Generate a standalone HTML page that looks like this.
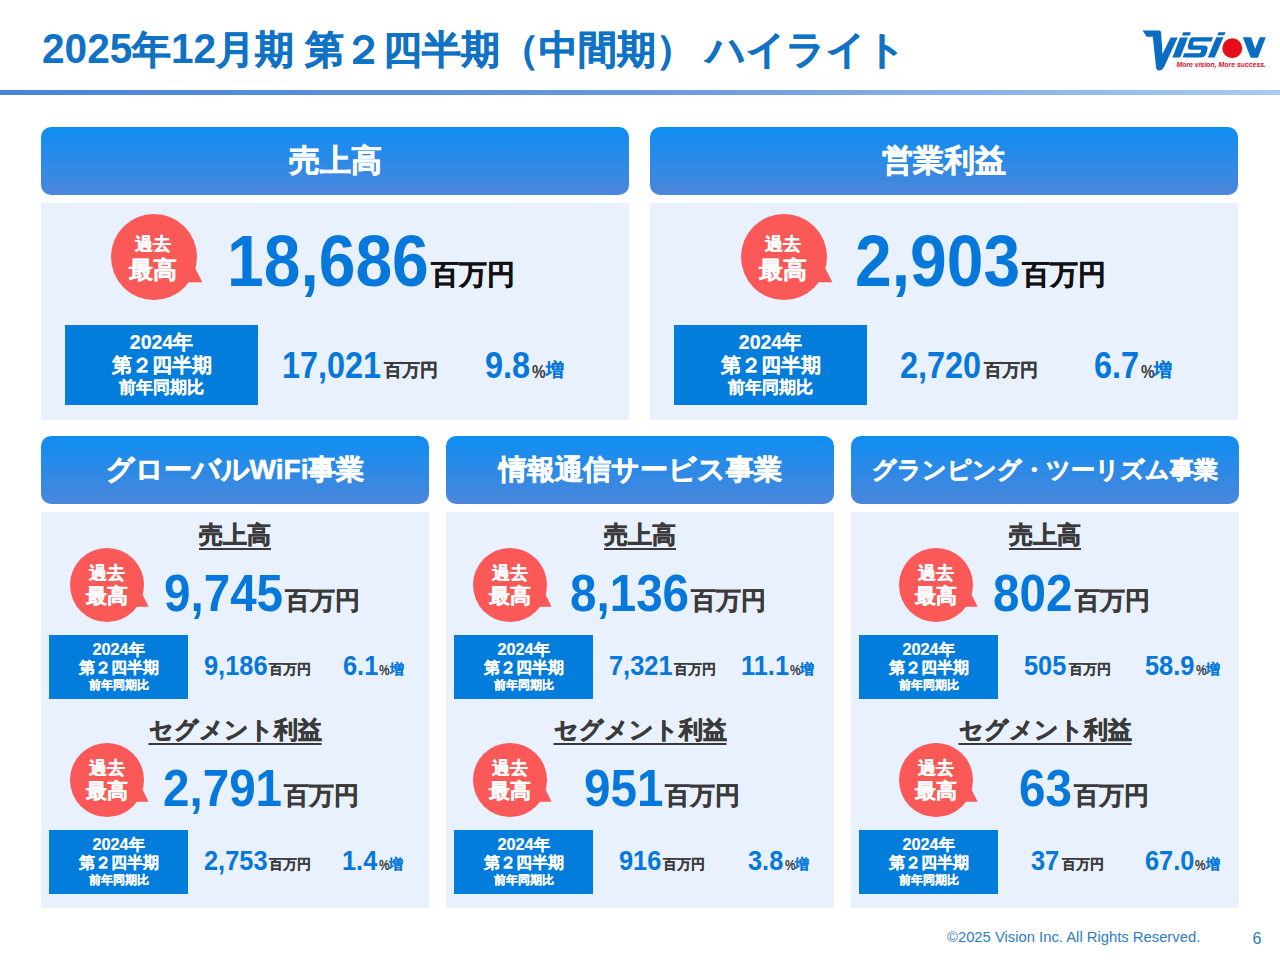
<!DOCTYPE html><html lang="ja"><head><meta charset="utf-8"><style>
*{margin:0;padding:0;box-sizing:border-box}
html,body{width:1280px;height:960px;overflow:hidden;background:#fff}
body{position:relative;font-family:"Liberation Sans",sans-serif;font-weight:bold}
.a{position:absolute;white-space:nowrap}
.hd{position:absolute;border-radius:10px;background:linear-gradient(180deg,#0e8ef2 0%,#4b86db 100%);color:#fff;text-align:center;-webkit-text-stroke:0.6px #fff}
.pn{position:absolute;background:#e8f1fd}
.bdg{position:absolute}
.bdg svg{position:absolute;left:0;top:0;overflow:visible}
.bx{position:absolute;background:#037ddb;color:#fff;text-align:center}
</style></head><body>
<div class="a" style="left:42px;top:26px;font-size:39px;line-height:46px;color:#0f72c4;-webkit-text-stroke:0.6px #0f72c4"><span style="font-size:42.5px;display:inline-block;transform:scaleX(0.955);transform-origin:0 0;margin-right:-4.25px;-webkit-text-stroke:0">2025</span>年<span style="font-size:42.5px;display:inline-block;transform:scaleX(0.955);transform-origin:0 0;margin-right:-2.13px;-webkit-text-stroke:0">12</span>月期 第２四半期（中間期） ハイライト</div>
<svg class="a" style="left:1130px;top:20px" width="150" height="60" viewBox="1130 20 150 60">
<g fill="#0b6cc4">
<path d="M1142.6,30.4 L1158.8,30.4 Q1161,30.4 1161.1,32.6 L1162.5,54 L1170.6,37.6 L1177.7,37.6 L1164.5,66 Q1162.3,70.5 1159.3,70.5 Q1156.3,70.5 1156,67 L1152.8,36.7 L1146.7,36.7 Z"/>
<path d="M1180,37.5 L1188,37.5 L1180.2,57.6 L1172.4,57.6 Z"/>
<path d="M1183.2,32.2 L1191,32.2 L1189.7,35.4 L1182,35.4 Z"/>
<path d="M1193,37.3 L1213,37.3 L1211.4,41.6 L1195,41.6 Q1193.5,41.6 1193.2,43 L1193,44 Q1192.8,45.6 1194.5,45.6 L1204,45.6 Q1208.5,45.6 1207.5,49.5 L1206.3,53.5 Q1205,57.5 1200.5,57.5 L1182.6,57.5 L1184.1,53.3 L1199,53.3 Q1200.6,53.3 1201,51.5 L1201.3,50.5 Q1201.6,49.8 1200,49.8 L1191,49.8 Q1187,49.8 1188,45.5 L1189,41.5 Q1190,37.3 1193,37.3 Z"/>
<path d="M1216.2,37.3 L1223.4,37.3 L1214.7,57.5 L1207.8,57.5 Z"/>
<path d="M1218.6,32.3 L1225.6,32.3 L1224.3,35.3 L1217.3,35.3 Z"/>
<path d="M1242.8,37.3 L1251.2,37.3 L1258,57.5 L1250.5,57.5 Z"/>
<path d="M1259.8,37.3 L1265.8,37.3 L1258,57.5 L1251.5,57.5 Z"/>
</g>
<circle cx="1232.3" cy="48.2" r="10.6" fill="#e60d1a" stroke="#fff" stroke-width="1.2"/>
<text x="1176.5" y="66.8" font-family="Liberation Sans" font-weight="bold" font-style="italic" font-size="6.4" fill="#d8102a" textLength="89.5" lengthAdjust="spacingAndGlyphs">More vision, More success.</text>
</svg>
<div class="a" style="left:0;top:90px;width:1280px;height:5px;background:linear-gradient(90deg,#4a83d7 0%,#6898de 50%,#8eb2e6 78%,#abcaf2 100%)"></div>
<div class="hd" style="left:41px;top:127px;width:588px;height:68px;font-size:31px;line-height:68px">売上高</div>
<div class="pn" style="left:41px;top:203px;width:588px;height:217px"></div>
<div class="hd" style="left:650px;top:127px;width:588px;height:68px;font-size:31px;line-height:68px">営業利益</div>
<div class="pn" style="left:650px;top:203px;width:588px;height:217px"></div>
<div class="hd" style="left:41px;top:436px;width:388px;height:68px;font-size:28px;line-height:68px">グローバルWiFi事業</div>
<div class="pn" style="left:41px;top:512px;width:388px;height:396px"></div>
<div class="hd" style="left:446px;top:436px;width:388px;height:68px;font-size:28px;line-height:68px">情報通信サービス事業</div>
<div class="pn" style="left:446px;top:512px;width:388px;height:396px"></div>
<div class="hd" style="left:851px;top:436px;width:388px;height:68px;font-size:24.2px;line-height:68px">グランピング・ツーリズム事業</div>
<div class="pn" style="left:851px;top:512px;width:388px;height:396px"></div>
<div class="bdg" style="left:111px;top:214px;width:86px;height:86px"><svg width="86" height="86" viewBox="0 0 100 100"><circle cx="50" cy="50" r="50" fill="#fb5858"/><polygon points="82,79.3 106.2,79.3 98,63 80,60" fill="#fb5858"/></svg></div>
<div class="a" style="left:118.1px;width:70.0px;text-align:center;top:235.8px;font-size:17.5px;line-height:17.5px;color:#fff;-webkit-text-stroke-width:0.3px">過去</div>
<div class="a" style="left:105.1px;width:96.0px;text-align:center;top:257.7px;font-size:24px;line-height:24px;color:#fff;-webkit-text-stroke-width:0.3px">最高</div>
<div class="a" style="left:226.84px;top:225.24px;font-size:72.5px;line-height:72.5px;color:#0677db"><span style="display:inline-block;transform:scaleX(0.91);transform-origin:0 0;margin-right:-19.96px">18,686</span><span style="font-size:27.5px;color:#111;margin-left:2px;position:relative;top:-1.9px;-webkit-text-stroke-width:0.3px">百万円</span></div>
<div class="bx" style="left:65px;top:325px;width:193px;height:80px"></div>
<div class="a" style="left:65px;width:193px;top:332.9px;text-align:center;color:#fff;font-size:19.5px;line-height:19.5px;-webkit-text-stroke-width:0.2px">2024年</div>
<div class="a" style="left:65px;width:193px;top:355.9px;text-align:center;color:#fff;font-size:19.9px;line-height:19.9px;-webkit-text-stroke-width:0.2px">第２四半期</div>
<div class="a" style="left:65px;width:193px;top:379.9px;text-align:center;color:#fff;font-size:16.6px;line-height:16.6px;-webkit-text-stroke-width:0.2px">前年同期比</div>
<div class="a" style="left:281.71px;top:347.58px;font-size:36px;line-height:36px;color:#0677db"><span style="display:inline-block;transform:scaleX(0.9);transform-origin:0 0;margin-right:-11.01px">17,021</span><span style="font-size:18px;color:#3a3a3a;margin-left:3px;position:relative;top:-1.3px;-webkit-text-stroke-width:0.15px">百万円</span></div>
<div class="a" style="left:484.88px;top:347.58px;font-size:36px;line-height:36px;color:#0677db"><span style="display:inline-block;transform:scaleX(0.9);transform-origin:0 0;margin-right:-5.00px">9.8</span><span style="font-size:18px;color:#3a3a3a;margin-left:2px;display:inline-block;transform:scaleX(0.85);transform-origin:0 0;margin-right:-2.40px">%</span><span style="font-size:17.5px;color:#0677db;position:relative;top:-1.2px;-webkit-text-stroke-width:0.2px">増</span></div>
<div class="bdg" style="left:741px;top:214px;width:86px;height:86px"><svg width="86" height="86" viewBox="0 0 100 100"><circle cx="50" cy="50" r="50" fill="#fb5858"/><polygon points="82,79.3 106.2,79.3 98,63 80,60" fill="#fb5858"/></svg></div>
<div class="a" style="left:748.1px;width:70.0px;text-align:center;top:235.8px;font-size:17.5px;line-height:17.5px;color:#fff;-webkit-text-stroke-width:0.3px">過去</div>
<div class="a" style="left:735.1px;width:96.0px;text-align:center;top:257.7px;font-size:24px;line-height:24px;color:#fff;-webkit-text-stroke-width:0.3px">最高</div>
<div class="a" style="left:855.21px;top:225.24px;font-size:72.5px;line-height:72.5px;color:#0677db"><span style="display:inline-block;transform:scaleX(0.91);transform-origin:0 0;margin-right:-16.33px">2,903</span><span style="font-size:27.5px;color:#111;margin-left:2px;position:relative;top:-1.9px;-webkit-text-stroke-width:0.3px">百万円</span></div>
<div class="bx" style="left:674px;top:325px;width:193px;height:80px"></div>
<div class="a" style="left:674px;width:193px;top:332.9px;text-align:center;color:#fff;font-size:19.5px;line-height:19.5px;-webkit-text-stroke-width:0.2px">2024年</div>
<div class="a" style="left:674px;width:193px;top:355.9px;text-align:center;color:#fff;font-size:19.9px;line-height:19.9px;-webkit-text-stroke-width:0.2px">第２四半期</div>
<div class="a" style="left:674px;width:193px;top:379.9px;text-align:center;color:#fff;font-size:16.6px;line-height:16.6px;-webkit-text-stroke-width:0.2px">前年同期比</div>
<div class="a" style="left:900.38px;top:347.58px;font-size:36px;line-height:36px;color:#0677db"><span style="display:inline-block;transform:scaleX(0.9);transform-origin:0 0;margin-right:-9.01px">2,720</span><span style="font-size:18px;color:#3a3a3a;margin-left:3px;position:relative;top:-1.3px;-webkit-text-stroke-width:0.15px">百万円</span></div>
<div class="a" style="left:1093.81px;top:347.58px;font-size:36px;line-height:36px;color:#0677db"><span style="display:inline-block;transform:scaleX(0.9);transform-origin:0 0;margin-right:-5.00px">6.7</span><span style="font-size:18px;color:#3a3a3a;margin-left:2px;display:inline-block;transform:scaleX(0.85);transform-origin:0 0;margin-right:-2.40px">%</span><span style="font-size:17.5px;color:#0677db;position:relative;top:-1.2px;-webkit-text-stroke-width:0.2px">増</span></div>
<div class="a" style="left:41px;width:388px;top:520.5px;text-align:center;font-size:24px;line-height:28px;color:#3a3a3a;-webkit-text-stroke-width:0.6px"><span style="text-decoration:underline;text-decoration-thickness:1.5px;text-underline-offset:5px">売上高</span></div>
<div class="bdg" style="left:70px;top:548px;width:74px;height:74px"><svg width="74" height="74" viewBox="0 0 100 100"><circle cx="50" cy="50" r="50" fill="#fb5858"/><polygon points="82,79.3 106.2,79.3 98,63 80,60" fill="#fb5858"/></svg></div>
<div class="a" style="left:71.0px;width:72.0px;text-align:center;top:563.9px;font-size:18px;line-height:18px;color:#fff;-webkit-text-stroke-width:0.3px">過去</div>
<div class="a" style="left:64.4px;width:85.2px;text-align:center;top:585.9px;font-size:21.3px;line-height:21.3px;color:#fff;-webkit-text-stroke-width:0.3px">最高</div>
<div class="a" style="left:163.85px;top:567.11px;font-size:52.3px;line-height:52.3px;color:#0677db"><span style="display:inline-block;transform:scaleX(0.91);transform-origin:0 0;margin-right:-11.78px">9,745</span><span style="font-size:25px;color:#3a3a3a;margin-left:2px;position:relative;top:-1.8px;-webkit-text-stroke-width:0.3px">百万円</span></div>
<div class="bx" style="left:49px;top:635px;width:139px;height:64px"></div>
<div class="a" style="left:49px;width:139px;top:640.5px;text-align:center;color:#fff;font-size:16.3px;line-height:16.3px;-webkit-text-stroke-width:0.2px">2024年</div>
<div class="a" style="left:49px;width:139px;top:659.5px;text-align:center;color:#fff;font-size:16px;line-height:16px;-webkit-text-stroke-width:0.2px">第２四半期</div>
<div class="a" style="left:49px;width:139px;top:679.2px;text-align:center;color:#fff;font-size:12.2px;line-height:12.2px;-webkit-text-stroke-width:0.2px">前年同期比</div>
<div class="a" style="left:203.82px;top:652.98px;font-size:27px;line-height:27px;color:#0677db"><span style="display:inline-block;transform:scaleX(0.94);transform-origin:0 0;margin-right:-4.05px">9,186</span><span style="font-size:14px;color:#3a3a3a;margin-left:2px;position:relative;top:-1.0px;-webkit-text-stroke-width:0.15px">百万円</span></div>
<div class="a" style="left:342.67px;top:652.98px;font-size:27px;line-height:27px;color:#0677db"><span style="display:inline-block;transform:scaleX(0.94);transform-origin:0 0;margin-right:-2.25px">6.1</span><span style="font-size:14px;color:#3a3a3a;margin-left:1px;display:inline-block;transform:scaleX(0.85);transform-origin:0 0;margin-right:-1.87px">%</span><span style="font-size:14px;color:#0677db;position:relative;top:-1.0px;-webkit-text-stroke-width:0.2px">増</span></div>
<div class="a" style="left:41px;width:388px;top:715.5px;text-align:center;font-size:24px;line-height:28px;color:#3a3a3a;-webkit-text-stroke-width:0.6px"><span style="text-decoration:underline;text-decoration-thickness:1.5px;text-underline-offset:5px">セグメント利益</span></div>
<div class="bdg" style="left:70px;top:743px;width:74px;height:74px"><svg width="74" height="74" viewBox="0 0 100 100"><circle cx="50" cy="50" r="50" fill="#fb5858"/><polygon points="82,79.3 106.2,79.3 98,63 80,60" fill="#fb5858"/></svg></div>
<div class="a" style="left:71.0px;width:72.0px;text-align:center;top:758.9px;font-size:18px;line-height:18px;color:#fff;-webkit-text-stroke-width:0.3px">過去</div>
<div class="a" style="left:64.4px;width:85.2px;text-align:center;top:780.9px;font-size:21.3px;line-height:21.3px;color:#fff;-webkit-text-stroke-width:0.3px">最高</div>
<div class="a" style="left:162.85px;top:762.11px;font-size:52.3px;line-height:52.3px;color:#0677db"><span style="display:inline-block;transform:scaleX(0.91);transform-origin:0 0;margin-right:-11.78px">2,791</span><span style="font-size:25px;color:#3a3a3a;margin-left:2px;position:relative;top:-1.8px;-webkit-text-stroke-width:0.3px">百万円</span></div>
<div class="bx" style="left:49px;top:830px;width:139px;height:64px"></div>
<div class="a" style="left:49px;width:139px;top:835.5px;text-align:center;color:#fff;font-size:16.3px;line-height:16.3px;-webkit-text-stroke-width:0.2px">2024年</div>
<div class="a" style="left:49px;width:139px;top:854.5px;text-align:center;color:#fff;font-size:16px;line-height:16px;-webkit-text-stroke-width:0.2px">第２四半期</div>
<div class="a" style="left:49px;width:139px;top:874.2px;text-align:center;color:#fff;font-size:12.2px;line-height:12.2px;-webkit-text-stroke-width:0.2px">前年同期比</div>
<div class="a" style="left:203.72px;top:847.98px;font-size:27px;line-height:27px;color:#0677db"><span style="display:inline-block;transform:scaleX(0.94);transform-origin:0 0;margin-right:-4.05px">2,753</span><span style="font-size:14px;color:#3a3a3a;margin-left:2px;position:relative;top:-1.0px;-webkit-text-stroke-width:0.15px">百万円</span></div>
<div class="a" style="left:342.40px;top:847.98px;font-size:27px;line-height:27px;color:#0677db"><span style="display:inline-block;transform:scaleX(0.94);transform-origin:0 0;margin-right:-2.25px">1.4</span><span style="font-size:14px;color:#3a3a3a;margin-left:1px;display:inline-block;transform:scaleX(0.85);transform-origin:0 0;margin-right:-1.87px">%</span><span style="font-size:14px;color:#0677db;position:relative;top:-1.0px;-webkit-text-stroke-width:0.2px">増</span></div>
<div class="a" style="left:446px;width:388px;top:520.5px;text-align:center;font-size:24px;line-height:28px;color:#3a3a3a;-webkit-text-stroke-width:0.6px"><span style="text-decoration:underline;text-decoration-thickness:1.5px;text-underline-offset:5px">売上高</span></div>
<div class="bdg" style="left:473px;top:548px;width:74px;height:74px"><svg width="74" height="74" viewBox="0 0 100 100"><circle cx="50" cy="50" r="50" fill="#fb5858"/><polygon points="82,79.3 106.2,79.3 98,63 80,60" fill="#fb5858"/></svg></div>
<div class="a" style="left:474.0px;width:72.0px;text-align:center;top:563.9px;font-size:18px;line-height:18px;color:#fff;-webkit-text-stroke-width:0.3px">過去</div>
<div class="a" style="left:467.4px;width:85.2px;text-align:center;top:585.9px;font-size:21.3px;line-height:21.3px;color:#fff;-webkit-text-stroke-width:0.3px">最高</div>
<div class="a" style="left:569.69px;top:567.11px;font-size:52.3px;line-height:52.3px;color:#0677db"><span style="display:inline-block;transform:scaleX(0.91);transform-origin:0 0;margin-right:-11.78px">8,136</span><span style="font-size:25px;color:#3a3a3a;margin-left:2px;position:relative;top:-1.8px;-webkit-text-stroke-width:0.3px">百万円</span></div>
<div class="bx" style="left:454px;top:635px;width:139px;height:64px"></div>
<div class="a" style="left:454px;width:139px;top:640.5px;text-align:center;color:#fff;font-size:16.3px;line-height:16.3px;-webkit-text-stroke-width:0.2px">2024年</div>
<div class="a" style="left:454px;width:139px;top:659.5px;text-align:center;color:#fff;font-size:16px;line-height:16px;-webkit-text-stroke-width:0.2px">第２四半期</div>
<div class="a" style="left:454px;width:139px;top:679.2px;text-align:center;color:#fff;font-size:12.2px;line-height:12.2px;-webkit-text-stroke-width:0.2px">前年同期比</div>
<div class="a" style="left:608.51px;top:652.98px;font-size:27px;line-height:27px;color:#0677db"><span style="display:inline-block;transform:scaleX(0.94);transform-origin:0 0;margin-right:-4.05px">7,321</span><span style="font-size:14px;color:#3a3a3a;margin-left:2px;position:relative;top:-1.0px;-webkit-text-stroke-width:0.15px">百万円</span></div>
<div class="a" style="left:740.90px;top:652.98px;font-size:27px;line-height:27px;color:#0677db"><span style="display:inline-block;transform:scaleX(0.94);transform-origin:0 0;margin-right:-3.15px">11.1</span><span style="font-size:14px;color:#3a3a3a;margin-left:1px;display:inline-block;transform:scaleX(0.85);transform-origin:0 0;margin-right:-1.87px">%</span><span style="font-size:14px;color:#0677db;position:relative;top:-1.0px;-webkit-text-stroke-width:0.2px">増</span></div>
<div class="a" style="left:446px;width:388px;top:715.5px;text-align:center;font-size:24px;line-height:28px;color:#3a3a3a;-webkit-text-stroke-width:0.6px"><span style="text-decoration:underline;text-decoration-thickness:1.5px;text-underline-offset:5px">セグメント利益</span></div>
<div class="bdg" style="left:473px;top:743px;width:74px;height:74px"><svg width="74" height="74" viewBox="0 0 100 100"><circle cx="50" cy="50" r="50" fill="#fb5858"/><polygon points="82,79.3 106.2,79.3 98,63 80,60" fill="#fb5858"/></svg></div>
<div class="a" style="left:474.0px;width:72.0px;text-align:center;top:758.9px;font-size:18px;line-height:18px;color:#fff;-webkit-text-stroke-width:0.3px">過去</div>
<div class="a" style="left:467.4px;width:85.2px;text-align:center;top:780.9px;font-size:21.3px;line-height:21.3px;color:#fff;-webkit-text-stroke-width:0.3px">最高</div>
<div class="a" style="left:583.85px;top:762.11px;font-size:52.3px;line-height:52.3px;color:#0677db"><span style="display:inline-block;transform:scaleX(0.91);transform-origin:0 0;margin-right:-7.85px">951</span><span style="font-size:25px;color:#3a3a3a;margin-left:2px;position:relative;top:-1.8px;-webkit-text-stroke-width:0.3px">百万円</span></div>
<div class="bx" style="left:454px;top:830px;width:139px;height:64px"></div>
<div class="a" style="left:454px;width:139px;top:835.5px;text-align:center;color:#fff;font-size:16.3px;line-height:16.3px;-webkit-text-stroke-width:0.2px">2024年</div>
<div class="a" style="left:454px;width:139px;top:854.5px;text-align:center;color:#fff;font-size:16px;line-height:16px;-webkit-text-stroke-width:0.2px">第２四半期</div>
<div class="a" style="left:454px;width:139px;top:874.2px;text-align:center;color:#fff;font-size:12.2px;line-height:12.2px;-webkit-text-stroke-width:0.2px">前年同期比</div>
<div class="a" style="left:619.12px;top:847.98px;font-size:27px;line-height:27px;color:#0677db"><span style="display:inline-block;transform:scaleX(0.94);transform-origin:0 0;margin-right:-2.70px">916</span><span style="font-size:14px;color:#3a3a3a;margin-left:2px;position:relative;top:-1.0px;-webkit-text-stroke-width:0.15px">百万円</span></div>
<div class="a" style="left:748.42px;top:847.98px;font-size:27px;line-height:27px;color:#0677db"><span style="display:inline-block;transform:scaleX(0.94);transform-origin:0 0;margin-right:-2.25px">3.8</span><span style="font-size:14px;color:#3a3a3a;margin-left:1px;display:inline-block;transform:scaleX(0.85);transform-origin:0 0;margin-right:-1.87px">%</span><span style="font-size:14px;color:#0677db;position:relative;top:-1.0px;-webkit-text-stroke-width:0.2px">増</span></div>
<div class="a" style="left:851px;width:388px;top:520.5px;text-align:center;font-size:24px;line-height:28px;color:#3a3a3a;-webkit-text-stroke-width:0.6px"><span style="text-decoration:underline;text-decoration-thickness:1.5px;text-underline-offset:5px">売上高</span></div>
<div class="bdg" style="left:899px;top:548px;width:74px;height:74px"><svg width="74" height="74" viewBox="0 0 100 100"><circle cx="50" cy="50" r="50" fill="#fb5858"/><polygon points="82,79.3 106.2,79.3 98,63 80,60" fill="#fb5858"/></svg></div>
<div class="a" style="left:900.0px;width:72.0px;text-align:center;top:563.9px;font-size:18px;line-height:18px;color:#fff;-webkit-text-stroke-width:0.3px">過去</div>
<div class="a" style="left:893.4px;width:85.2px;text-align:center;top:585.9px;font-size:21.3px;line-height:21.3px;color:#fff;-webkit-text-stroke-width:0.3px">最高</div>
<div class="a" style="left:993.49px;top:567.11px;font-size:52.3px;line-height:52.3px;color:#0677db"><span style="display:inline-block;transform:scaleX(0.91);transform-origin:0 0;margin-right:-7.85px">802</span><span style="font-size:25px;color:#3a3a3a;margin-left:2px;position:relative;top:-1.8px;-webkit-text-stroke-width:0.3px">百万円</span></div>
<div class="bx" style="left:859px;top:635px;width:139px;height:64px"></div>
<div class="a" style="left:859px;width:139px;top:640.5px;text-align:center;color:#fff;font-size:16.3px;line-height:16.3px;-webkit-text-stroke-width:0.2px">2024年</div>
<div class="a" style="left:859px;width:139px;top:659.5px;text-align:center;color:#fff;font-size:16px;line-height:16px;-webkit-text-stroke-width:0.2px">第２四半期</div>
<div class="a" style="left:859px;width:139px;top:679.2px;text-align:center;color:#fff;font-size:12.2px;line-height:12.2px;-webkit-text-stroke-width:0.2px">前年同期比</div>
<div class="a" style="left:1024.22px;top:652.98px;font-size:27px;line-height:27px;color:#0677db"><span style="display:inline-block;transform:scaleX(0.94);transform-origin:0 0;margin-right:-2.70px">505</span><span style="font-size:14px;color:#3a3a3a;margin-left:2px;position:relative;top:-1.0px;-webkit-text-stroke-width:0.15px">百万円</span></div>
<div class="a" style="left:1145.22px;top:652.98px;font-size:27px;line-height:27px;color:#0677db"><span style="display:inline-block;transform:scaleX(0.94);transform-origin:0 0;margin-right:-3.15px">58.9</span><span style="font-size:14px;color:#3a3a3a;margin-left:1px;display:inline-block;transform:scaleX(0.85);transform-origin:0 0;margin-right:-1.87px">%</span><span style="font-size:14px;color:#0677db;position:relative;top:-1.0px;-webkit-text-stroke-width:0.2px">増</span></div>
<div class="a" style="left:851px;width:388px;top:715.5px;text-align:center;font-size:24px;line-height:28px;color:#3a3a3a;-webkit-text-stroke-width:0.6px"><span style="text-decoration:underline;text-decoration-thickness:1.5px;text-underline-offset:5px">セグメント利益</span></div>
<div class="bdg" style="left:899px;top:743px;width:74px;height:74px"><svg width="74" height="74" viewBox="0 0 100 100"><circle cx="50" cy="50" r="50" fill="#fb5858"/><polygon points="82,79.3 106.2,79.3 98,63 80,60" fill="#fb5858"/></svg></div>
<div class="a" style="left:900.0px;width:72.0px;text-align:center;top:758.9px;font-size:18px;line-height:18px;color:#fff;-webkit-text-stroke-width:0.3px">過去</div>
<div class="a" style="left:893.4px;width:85.2px;text-align:center;top:780.9px;font-size:21.3px;line-height:21.3px;color:#fff;-webkit-text-stroke-width:0.3px">最高</div>
<div class="a" style="left:1019.26px;top:762.11px;font-size:52.3px;line-height:52.3px;color:#0677db"><span style="display:inline-block;transform:scaleX(0.91);transform-origin:0 0;margin-right:-5.24px">63</span><span style="font-size:25px;color:#3a3a3a;margin-left:2px;position:relative;top:-1.8px;-webkit-text-stroke-width:0.3px">百万円</span></div>
<div class="bx" style="left:859px;top:830px;width:139px;height:64px"></div>
<div class="a" style="left:859px;width:139px;top:835.5px;text-align:center;color:#fff;font-size:16.3px;line-height:16.3px;-webkit-text-stroke-width:0.2px">2024年</div>
<div class="a" style="left:859px;width:139px;top:854.5px;text-align:center;color:#fff;font-size:16px;line-height:16px;-webkit-text-stroke-width:0.2px">第２四半期</div>
<div class="a" style="left:859px;width:139px;top:874.2px;text-align:center;color:#fff;font-size:12.2px;line-height:12.2px;-webkit-text-stroke-width:0.2px">前年同期比</div>
<div class="a" style="left:1031.42px;top:847.98px;font-size:27px;line-height:27px;color:#0677db"><span style="display:inline-block;transform:scaleX(0.94);transform-origin:0 0;margin-right:-1.80px">37</span><span style="font-size:14px;color:#3a3a3a;margin-left:2px;position:relative;top:-1.0px;-webkit-text-stroke-width:0.15px">百万円</span></div>
<div class="a" style="left:1145.07px;top:847.98px;font-size:27px;line-height:27px;color:#0677db"><span style="display:inline-block;transform:scaleX(0.94);transform-origin:0 0;margin-right:-3.15px">67.0</span><span style="font-size:14px;color:#3a3a3a;margin-left:1px;display:inline-block;transform:scaleX(0.85);transform-origin:0 0;margin-right:-1.87px">%</span><span style="font-size:14px;color:#0677db;position:relative;top:-1.0px;-webkit-text-stroke-width:0.2px">増</span></div>
<div class="a" style="left:947px;top:928px;font-size:14.8px;line-height:18px;font-weight:normal;color:#2e7cc2">©2025 Vision Inc. All Rights Reserved.</div>
<div class="a" style="left:1252.5px;top:930px;font-size:16px;line-height:18px;font-weight:normal;color:#2e7cc2">6</div>
</body></html>
